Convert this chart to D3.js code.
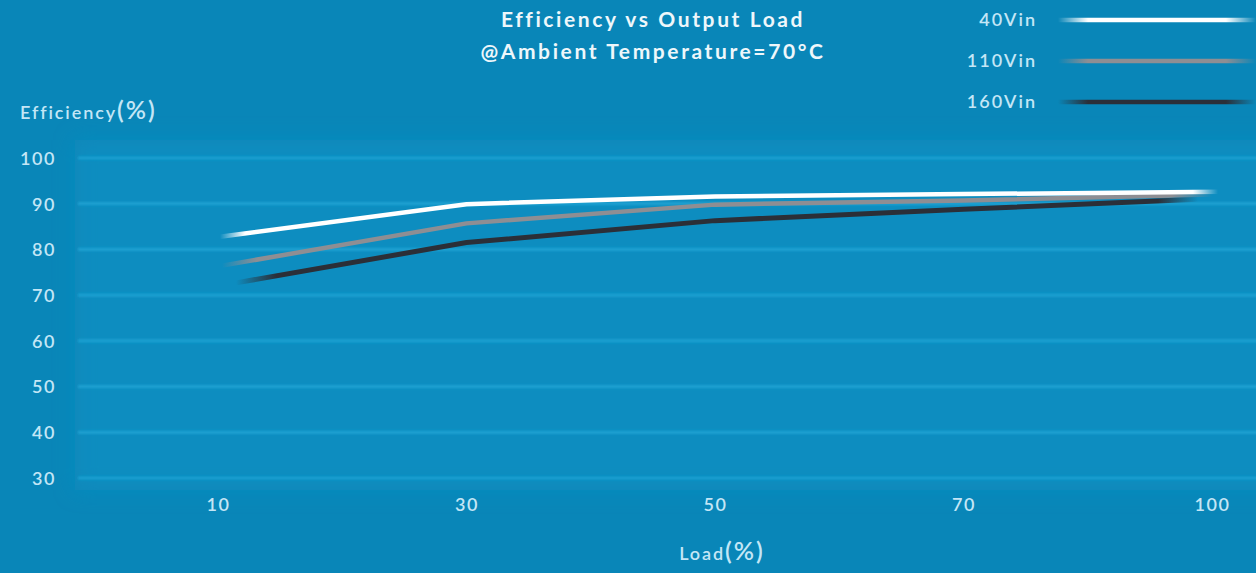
<!DOCTYPE html>
<html>
<head>
<meta charset="utf-8">
<script src="https://cdn.jsdelivr.net/npm/d3@7/dist/d3.min.js"></script>
<style>
  html, body { margin: 0; padding: 0; background: #0986b8; }
  svg { display: block; }
  text { font-family: Lato, "Open Sans", sans-serif; }
</style>
</head>
<body>
<svg id="chart" width="1256" height="573"></svg>
<script>
const loads = ["10", "30", "50", "70", "100"];
const yTicks = [30, 40, 50, 60, 70, 80, 90, 100];
const seriesNames = ["40Vin", "110Vin", "160Vin"];
const eff40 = [82.7, 89.9, 91.6, 92.1, 92.6];
const eff110 = [76.3, 85.7, 89.8, 90.7, 92.0];
const eff160 = [72.0, 81.5, 86.3, 88.8, 91.1];
const seriesColors = ["#ffffff", "#8e8e93", "#2b2f38"];
const titleLines = ["Efficiency vs Output Load", "@Ambient Temperature=70°C"];

const W = 1256, H = 573;
const svg = d3.select("#chart");
const defs = svg.append("defs");

defs.append("filter").attr("id", "blur").attr("filterUnits", "userSpaceOnUse")
  .attr("x", 0).attr("y", 0).attr("width", W).attr("height", H)
  .append("feGaussianBlur").attr("stdDeviation", 1.1);
defs.append("filter").attr("id", "blurBg").attr("filterUnits", "userSpaceOnUse")
  .attr("x", 0).attr("y", 0).attr("width", W).attr("height", H)
  .append("feGaussianBlur").attr("stdDeviation", 10);

const labelColor = "#c4e6f6";

// background
svg.append("rect").attr("width", W).attr("height", H).attr("fill", "#0986b8");
svg.append("rect").attr("x", 75).attr("y", 140).attr("width", W).attr("height", 350)
  .attr("fill", "#078dc0").attr("filter", "url(#blurBg)");

const x = d3.scalePoint().domain(loads).range([218, 1212]);
const y = d3.scaleLinear().domain([30, 100]).range([478, 158]);

// gridlines
svg.append("g").attr("filter", "url(#blur)").selectAll("line").data(yTicks).join("line")
  .attr("x1", 78).attr("x2", W + 10)
  .attr("y1", d => y(d)).attr("y2", d => y(d))
  .attr("stroke", "#1ca0d1").attr("stroke-width", 3.2);

// y axis
const yAxis = d3.axisLeft(y).tickValues(yTicks).tickSize(0).tickPadding(0);
const gy = svg.append("g").attr("transform", "translate(56,0)").call(yAxis);
gy.select(".domain").remove();
gy.selectAll("text").attr("fill", labelColor).attr("font-size", 18).attr("font-weight", 600)
  .attr("letter-spacing", 1.6).attr("dy", "0.35em").attr("text-anchor", "end")
  .attr("font-family", "Lato, sans-serif");

// x axis
const xAxis = d3.axisBottom(x).tickSize(0).tickPadding(0);
const gx = svg.append("g").attr("transform", "translate(0,505)").call(xAxis);
gx.select(".domain").remove();
gx.selectAll("text").attr("fill", labelColor).attr("font-size", 18).attr("font-weight", 600)
  .attr("letter-spacing", 1.6).attr("dy", "0.35em").attr("font-family", "Lato, sans-serif");

// axis titles
const yt = svg.append("text").attr("x", 20).attr("y", 113).attr("dy", "0.35em")
  .attr("fill", labelColor).attr("font-weight", 600).attr("letter-spacing", 1.9);
yt.append("tspan").attr("font-size", 18).text("Efficiency");
yt.append("tspan").attr("font-size", 25).attr("letter-spacing", 2).text("(%)");

const xt = svg.append("text").attr("x", 722).attr("y", 554).attr("dy", "0.35em").attr("text-anchor", "middle")
  .attr("fill", labelColor).attr("font-weight", 600).attr("letter-spacing", 1.9);
xt.append("tspan").attr("font-size", 18).text("Load");
xt.append("tspan").attr("font-size", 25).attr("letter-spacing", 2).text("(%)");

// title
svg.append("g").selectAll("text").data(titleLines).join("text")
  .attr("x", 653).attr("y", (d, i) => 20 + i * 32).attr("dy", "0.35em").attr("text-anchor", "middle")
  .attr("fill", "#eef7fb").attr("font-size", 21).attr("font-weight", 700).attr("letter-spacing", 2.6)
  .text(d => d);

// gradients for tapered lines
function taperGrad(id, color, x0, x1, fadeIn, fadeOut) {
  const g = defs.append("linearGradient").attr("id", id).attr("gradientUnits", "userSpaceOnUse")
    .attr("x1", x0).attr("x2", x1).attr("y1", 0).attr("y2", 0);
  const L = x1 - x0;
  g.append("stop").attr("offset", 0).attr("stop-color", color).attr("stop-opacity", 0);
  g.append("stop").attr("offset", fadeIn / L).attr("stop-color", color).attr("stop-opacity", 1);
  g.append("stop").attr("offset", 1 - fadeOut / L).attr("stop-color", color).attr("stop-opacity", 1);
  g.append("stop").attr("offset", 1).attr("stop-color", color).attr("stop-opacity", 0);
}

const series = [
  { name: seriesNames[0], values: eff40, color: seriesColors[0], fin: 25, fout: 25, start: 2, end: 6 },
  { name: seriesNames[1], values: eff110, color: seriesColors[1], fin: 35, fout: 40, start: 4, end: 0 },
  { name: seriesNames[2], values: eff160, color: seriesColors[2], fin: 40, fout: 40, start: 18, end: -14 }
];

const line = d3.line().x(d => d.x).y(d => d.y);

series.forEach((s, i) => {
  const pts = s.values.map((v, j) => ({ x: x(loads[j]), y: y(v) }));
  const first = pts[0], second = pts[1];
  const t0 = s.start / (second.x - first.x);
  pts[0] = { x: first.x + s.start, y: first.y + (second.y - first.y) * t0 };
  const last = pts[pts.length - 1], prev = pts[pts.length - 2];
  const t1 = s.end / (last.x - prev.x);
  pts[pts.length - 1] = { x: last.x + s.end, y: last.y + (last.y - prev.y) * t1 };
  const gid = "grad" + i;
  taperGrad(gid, s.color, pts[0].x, pts[pts.length - 1].x, s.fin, s.fout);
  s.pts = pts; s.gid = gid;
});

[1, 2, 0].forEach(i => {
  const s = series[i];
  svg.append("path").datum(s.pts).attr("d", line)
    .attr("fill", "none").attr("stroke", `url(#${s.gid})`).attr("stroke-width", i === 2 ? 5 : 4.5)
    .attr("stroke-linejoin", "round");
});

// legend
const legY = [20, 61, 102];
const lg = svg.append("g");
series.forEach((s, i) => {
  lg.append("text").attr("x", 1037).attr("y", legY[i]).attr("dy", "0.35em").attr("text-anchor", "end")
    .attr("fill", labelColor).attr("font-size", 18).attr("font-weight", 600).attr("letter-spacing", 2)
    .text(s.name);
  const lid = "lgrad" + i;
  taperGrad(lid, s.color, 1058, 1256, 30, 30);
  lg.append("line").attr("x1", 1058).attr("x2", 1256).attr("y1", legY[i]).attr("y2", legY[i])
    .attr("stroke", `url(#${lid})`).attr("stroke-width", 4.5);
});
</script>
</body>
</html>
